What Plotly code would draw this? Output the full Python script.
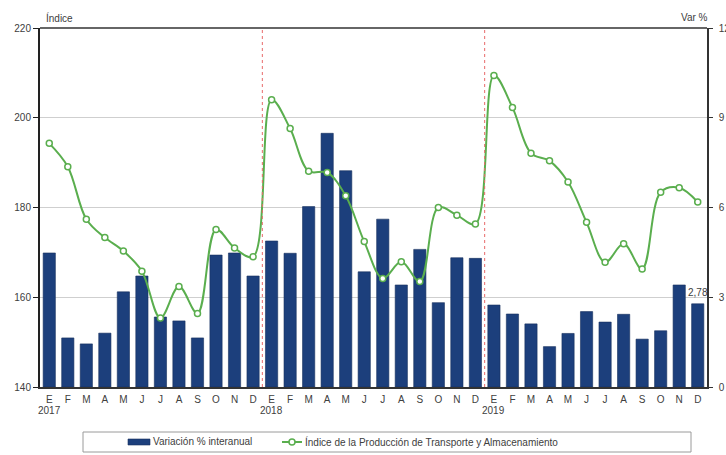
import plotly.graph_objects as go

# Month initials (Spanish) for three years, Jan 2017 - Dec 2019
months = ["E", "F", "M", "A", "M", "J", "J", "A", "S", "O", "N", "D"]
years = ["2017", "2018", "2019"]
month_labels = months * 3

# Year-on-year variation (%), right axis
variacion = [
    4.48, 1.64, 1.44, 1.80, 3.18, 3.71, 2.34, 2.21, 1.64, 4.41, 4.48, 3.71,
    4.88, 4.47, 6.03, 8.48, 7.23, 3.85, 5.61, 3.41, 4.60, 2.82, 4.32, 4.30,
    2.74, 2.44, 2.11, 1.35, 1.79, 2.52, 2.17, 2.43, 1.60, 1.88, 3.41, 2.78,
]

# Transport & storage production index, left axis
indice = [
    194.3, 189.1, 177.4, 173.3, 170.3, 165.8, 155.4, 162.4, 156.4, 175.1, 171.0, 169.0,
    204.0, 197.6, 188.1, 187.8, 182.6, 172.4, 164.2, 167.9, 163.5, 180.0, 178.3, 176.3,
    209.4, 202.3, 192.1, 190.4, 185.7, 176.7, 167.8, 171.9, 166.3, 183.4, 184.4, 181.2,
]

series_names = ["Variación % interanual",
                "Índice de la Producción de Transporte y Almacenamiento"]

x = list(range(len(month_labels)))

BAR = "#1c3f7c"
GREEN = "#5aae4e"
FONT = "Liberation Sans, Arial, sans-serif"
TXT = "#404040"

W, H = 726, 455
ML, MR, MT, MB = 40, 19, 28, 68
PW, PH = W - ML - MR, H - MT - MB


def px(xp):
    """Horizontal pixel -> paper coordinate."""
    return (xp - ML) / PW


def py(yp):
    """Vertical pixel -> paper coordinate."""
    return (H - MB - yp) / PH


fig = go.Figure()

fig.add_trace(go.Bar(
    x=x, y=variacion, yaxis="y",
    name=series_names[0],
    marker=dict(color=BAR, line=dict(color="#17305e", width=0.6)),
    width=0.66,
))

fig.add_trace(go.Scatter(
    x=x, y=indice, yaxis="y2",
    name=series_names[1],
    mode="lines+markers",
    line=dict(color=GREEN, width=2, shape="spline", smoothing=1.0),
    marker=dict(symbol="circle", size=6, color="white",
                line=dict(color=GREEN, width=1.5)),
))

# value label on the last bar
fig.add_annotation(
    x=x[-1], y=variacion[-1], yref="y", text=f"{variacion[-1]:.2f}".replace(".", ","),
    showarrow=False, yshift=11,
    font=dict(family=FONT, size=10, color=TXT),
)

# year labels under January of each year
for i, yr in enumerate(years):
    fig.add_annotation(
        x=i * 12, y=py(410), xref="x", yref="paper", text=yr,
        xanchor="center", yanchor="middle",
        showarrow=False, font=dict(family=FONT, size=10, color=TXT),
    )

# axis titles
fig.add_annotation(x=px(59), y=py(18), xref="paper", yref="paper", text="Índice",
                   xanchor="center", yanchor="middle",
                   showarrow=False, font=dict(family=FONT, size=10, color=TXT))
fig.add_annotation(x=px(694), y=py(17), xref="paper", yref="paper", text="Var %",
                   xanchor="center", yanchor="middle",
                   showarrow=False, font=dict(family=FONT, size=10, color=TXT))

shapes = []
# dotted year separators
for b in (11.5, 23.5):
    shapes.append(dict(type="line", xref="x", yref="paper", x0=b, x1=b, y0=0, y1=1,
                       line=dict(color="#e86a6a", width=1, dash="dot")))
# top border of the plot area
shapes.append(dict(type="line", xref="paper", yref="paper", x0=0, x1=1, y0=1, y1=1,
                   line=dict(color="#333333", width=1.5)))

# legend: frame, bar swatch, line swatch with marker, texts
LEG_Y = 442
shapes.append(dict(type="rect", xref="paper", yref="paper",
                   x0=px(83), x1=px(691), y0=py(452), y1=py(432),
                   line=dict(color="#9a9a9a", width=1), fillcolor="rgba(0,0,0,0)"))
shapes.append(dict(type="rect", xref="paper", yref="paper",
                   x0=px(128), x1=px(150), y0=py(445), y1=py(439),
                   line=dict(color="#17305e", width=0.6), fillcolor=BAR))
shapes.append(dict(type="line", xref="paper", yref="paper",
                   x0=px(282), x1=px(302), y0=py(LEG_Y), y1=py(LEG_Y),
                   line=dict(color=GREEN, width=2)))
shapes.append(dict(type="circle", xref="paper", yref="paper",
                   x0=px(289), x1=px(295), y0=py(LEG_Y + 3), y1=py(LEG_Y - 3),
                   line=dict(color=GREEN, width=1.5), fillcolor="white"))
fig.add_annotation(x=px(151), y=py(LEG_Y), xref="paper", yref="paper",
                   text=series_names[0], xanchor="left", yanchor="middle",
                   showarrow=False, font=dict(family=FONT, size=10, color=TXT))
fig.add_annotation(x=px(303), y=py(LEG_Y), xref="paper", yref="paper",
                   text=series_names[1], xanchor="left", yanchor="middle",
                   showarrow=False, font=dict(family=FONT, size=10, color=TXT))

fig.update_layout(
    width=W, height=H,
    margin=dict(l=ML, r=MR, t=MT, b=MB),
    paper_bgcolor="white", plot_bgcolor="white",
    font=dict(family=FONT, size=10, color=TXT),
    shapes=shapes,
    showlegend=False,
    xaxis=dict(
        range=[-0.5, 35.5], tickmode="array", tickvals=x, ticktext=month_labels,
        showgrid=False, zeroline=False, showline=True, linecolor="#333333",
        linewidth=1.5, ticks="outside", ticklen=2, tickcolor="rgba(0,0,0,0)",
        tickfont=dict(family=FONT, size=10, color=TXT),
    ),
    yaxis=dict(
        side="right", range=[0, 12], tickvals=[0, 3, 6, 9, 12],
        showgrid=True, gridcolor="#cfcfcf", gridwidth=1, zeroline=False,
        showline=True, linecolor="#333333", linewidth=1.5,
        ticks="outside", ticklen=4, tickcolor="#333333", ticklabelstandoff=4,
        tickfont=dict(family=FONT, size=10, color=TXT), automargin=False,
    ),
    yaxis2=dict(
        side="left", overlaying="y", range=[140, 220],
        tickvals=[140, 160, 180, 200, 220],
        showgrid=False, zeroline=False,
        showline=True, linecolor="#222222", linewidth=2,
        ticks="outside", ticklen=5, tickcolor="#222222",
        tickfont=dict(family=FONT, size=10, color=TXT), automargin=False,
    ),
)

fig.write_html("out.html")
